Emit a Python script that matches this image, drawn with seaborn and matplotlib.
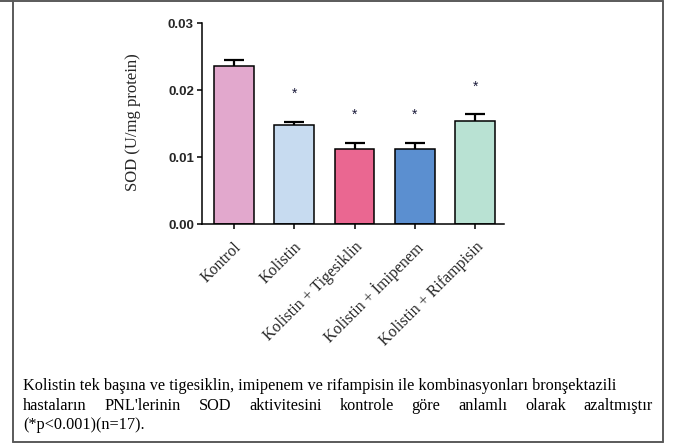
import matplotlib
matplotlib.use("Agg")
import matplotlib.pyplot as plt
import seaborn as sns
import pandas as pd
import numpy as np
from matplotlib.lines import Line2D

# Group names, mean SOD activity (U/mg protein) and SEM
groups = ["Kontrol", "Kolistin", "Kolistin + Tigesiklin",
          "Kolistin + İmipenem", "Kolistin + Rifampisin"]
means = [0.0236, 0.0148, 0.0112, 0.0112, 0.0154]
sems = [0.0009, 0.0005, 0.0010, 0.0010, 0.0010]
marks = ["", "*", "*", "*", "*"]
bar_colors = ["#E2A8CD", "#C7DBF0", "#EA6791", "#5B8FD0", "#B9E2D3"]

y_ticks = [0.00, 0.01, 0.02, 0.03]
y_tick_labels = ["0.00", "0.01", "0.02", "0.03"]
y_label = "SOD (U/mg protein)"

caption_lines = [
    "Kolistin tek başına ve tigesiklin, imipenem ve rifampisin ile kombinasyonları bronşektazili",
    "hastaların PNL'lerinin SOD aktivitesini kontrole göre anlamlı olarak azaltmıştır",
    "(*p<0.001)(n=17).",
]

W, H = 676, 447
SERIF = "Liberation Serif"
SANS = "Liberation Sans"

sns.set_theme(style="ticks")
plt.rcParams["font.family"] = [SERIF, "DejaVu Serif"]

fig = plt.figure(figsize=(W / 100, H / 100), dpi=100, facecolor="white")


def px(x, y):
    return x / W, 1 - y / H


ax_left, ax_right, ax_top, ax_bot = 201.7, 504.0, 23.3, 224.3
ax = fig.add_axes([ax_left / W, 1 - ax_bot / H,
                   (ax_right - ax_left) / W, (ax_bot - ax_top) / H])

df = pd.DataFrame({"group": groups, "mean": means})
sns.barplot(data=df, x="group", y="mean", hue="group", palette=bar_colors,
            saturation=1, legend=False, width=0.66, edgecolor="black",
            linewidth=1.1, errorbar=None, ax=ax)

# one-sided SEM bars (upper only)
xs = np.arange(len(groups))
eb = ax.errorbar(xs, means, yerr=[np.zeros(len(sems)), sems], fmt="none",
                 ecolor="black", elinewidth=1.6, capsize=7.5, capthick=1.6,
                 zorder=5)
caplines = eb.lines[1]
if len(caplines) > 1:
    caplines[0].set_visible(False)

for i, (m, s, mk) in enumerate(zip(means, sems, marks)):
    if mk:
        ax.annotate(mk, xy=(i, m + s), xytext=(0, 21), textcoords="offset pixels",
                    ha="center", va="bottom", fontsize=10, color="#1a1a3a",
                    family=SANS)

ax.set_xlim(-0.53, 4.475)
ax.set_ylim(0, 0.03)
ax.set_yticks(y_ticks)
ax.set_yticklabels(y_tick_labels, family=SANS, fontweight="bold", fontsize=9.5)
ax.set_xticks(xs)
ax.set_xticklabels(groups, rotation=45, ha="right", rotation_mode="anchor",
                   family=SERIF, fontsize=11.5)
ax.set_xlabel("")
ax.set_ylabel("")
ax.tick_params(axis="both", length=3.6, width=1.1, color="black", pad=2)
ax.tick_params(axis="x", pad=7)
sns.despine(ax=ax)
for sp in ("left", "bottom"):
    ax.spines[sp].set_linewidth(1.1)
    ax.spines[sp].set_color("black")
ax.set_facecolor("white")

fig.text(*px(133, 122.5), y_label, rotation=90, ha="center", va="center",
         family=SERIF, fontsize=12)

# caption below the chart
cap_kw = dict(family=SERIF, fontsize=11.7, color="black", va="baseline")
cap_x = 23
fig.text(*px(cap_x, 390), caption_lines[0], **cap_kw)

# justified second line
renderer = fig.canvas.get_renderer()
words = caption_lines[1].split()
right_edge = 653
word_texts = [fig.text(*px(cap_x, 410), w, **cap_kw) for w in words]
widths = [t.get_window_extent(renderer).width for t in word_texts]
gap = (right_edge - cap_x - sum(widths)) / (len(words) - 1)
xpos = cap_x
for t, w in zip(word_texts, widths):
    t.set_position(px(xpos, 410))
    xpos += w + gap

fig.text(*px(cap_x, 429), caption_lines[2], **cap_kw)

# outer frame
frame_col = "#5a5a5a"
fl, fr, ft, fb = 12.5, 662.7, 1.0, 442.0
for (x0, y0, x1, y1) in [(0, ft, fr, ft), (fl, ft, fl, fb), (fr, ft, fr, fb), (fl, fb, fr, fb)]:
    fig.add_artist(Line2D([x0 / W, x1 / W], [1 - y0 / H, 1 - y1 / H],
                          color=frame_col, linewidth=1.4, transform=fig.transFigure))

fig.savefig("out.png", dpi=100, facecolor="white")
